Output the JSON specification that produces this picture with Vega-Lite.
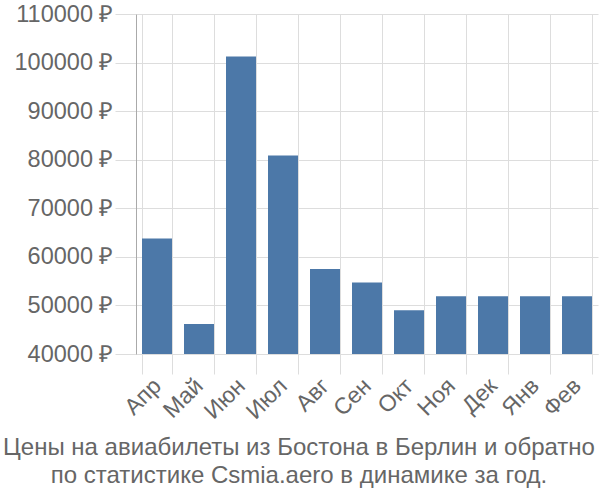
{
  "$schema": "https://vega.github.io/schema/vega-lite/v6.json",
  "width": 462,
  "height": 340,
  "autosize": {"type": "none"},
  "padding": {"left": 136, "top": 14, "right": 2, "bottom": 146},
  "background": "white",
  "data": {"values": [
    {"month": "Апр", "price": 63760},
    {"month": "Май", "price": 46180},
    {"month": "Июн", "price": 101260},
    {"month": "Июл", "price": 80860},
    {"month": "Авг", "price": 57500},
    {"month": "Сен", "price": 54700},
    {"month": "Окт", "price": 49000},
    {"month": "Ноя", "price": 51870},
    {"month": "Дек", "price": 51870},
    {"month": "Янв", "price": 51870},
    {"month": "Фев", "price": 51870}
  ]},
  "title": {
    "text": ["Цены на авиабилеты из Бостона в Берлин и обратно", "по статистике Csmia.aero в динамике за год."],
    "orient": "bottom",
    "anchor": "middle",
    "fontSize": 24,
    "fontWeight": "normal",
    "font": "Liberation Sans",
    "color": "#666666",
    "lineHeight": 28,
    "offset": 12,
    "dx": -68
  },
  "config": {
    "view": {"stroke": null},
    "font": "Liberation Sans"
  },
  "mark": {"type": "bar", "color": "#4c78a8", "width": 30},
  "encoding": {
    "x": {
      "field": "month",
      "type": "nominal",
      "sort": null,
      "title": null,
      "scale": {"paddingInner": 0.28, "paddingOuter": 0.14},
      "axis": {
        "labelAngle": -45,
        "labelFontSize": 23,
        "labelColor": "#666666",
        "labelFont": "Liberation Sans",
        "labelBaseline": "middle",
        "grid": true,
        "gridColor": "#dddddd",
        "tickBand": "extent",
        "tickSize": 20,
        "tickColor": "#dddddd",
        "domainColor": "#dddddd",
        "labelPadding": 8
      }
    },
    "y": {
      "field": "price",
      "type": "quantitative",
      "title": null,
      "scale": {"domain": [40000, 110000], "zero": false, "nice": false},
      "axis": {
        "values": [40000, 50000, 60000, 70000, 80000, 90000, 100000, 110000],
        "labelExpr": "datum.value + ' ₽'",
        "labelFontSize": 23.5,
        "labelColor": "#666666",
        "labelFont": "Liberation Sans",
        "gridColor": "#dddddd",
        "tickSize": 21,
        "tickColor": "#dddddd",
        "domainColor": "#aaaaaa",
        "labelPadding": 2
      }
    },
    "y2": {"datum": 40000}
  }
}
